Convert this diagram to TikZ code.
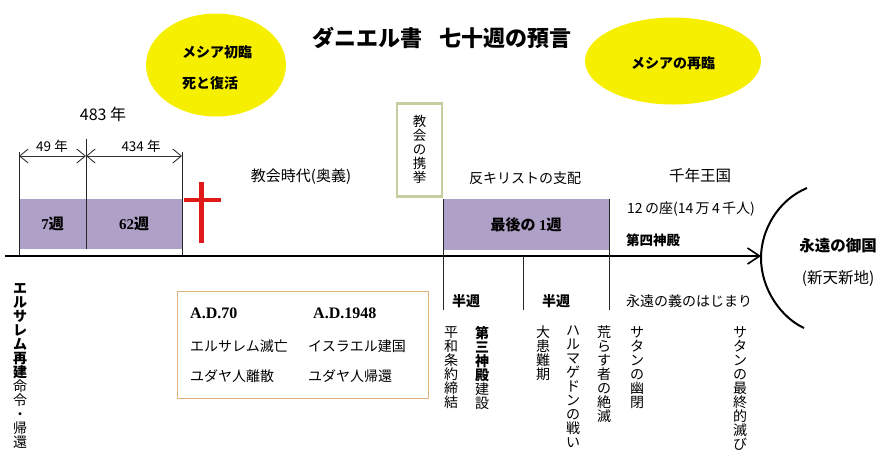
\documentclass[tikz,border=0pt]{standalone}
\usepackage{fontspec}
\setmainfont{Noto Sans CJK JP}
\newfontfamily\tms{Liberation Serif}
\usetikzlibrary{arrows.meta,shapes.geometric}
\definecolor{lav}{RGB}{174,160,198}
\definecolor{yel}{RGB}{246,240,0}
\definecolor{grn}{RGB}{196,206,160}
\definecolor{org}{RGB}{228,178,126}
\definecolor{crs}{RGB}{224,26,26}
\newcommand\tb[1]{{\bfseries #1}}
\begin{document}
\begin{tikzpicture}[x=1pt,y=-1pt,
  txt/.style={inner sep=0pt, font=\fontsize{14}{14}\selectfont},
  btxt/.style={inner sep=0pt, font=\fontsize{14}{14}\selectfont\bfseries},
  tate/.style={inner sep=0pt, anchor=north, align=center, font=\fontsize{14}{14}\selectfont},
  wkbox/.style={fill=lav, draw=none, inner sep=0pt, anchor=north west},
  oval/.style={ellipse, fill=yel, draw=none, inner sep=0pt},
  thin/.style={line width=0.9pt, draw=black!85},
  dim/.style={line width=0.9pt, draw=black!80, {Straight Barb[length=8.5pt,width=14pt,line width=0.9pt]}-{Straight Barb[length=8.5pt,width=14pt,line width=0.9pt]}},
  axis/.style={line width=2pt, -{Straight Barb[length=12pt,width=16pt,line width=1.6pt]}}
]
\useasboundingbox (0,0) rectangle (890,467);
\fill[white] (0,0) rectangle (890,467);

% title
\node[inner sep=0pt, font=\fontsize{22}{22}\selectfont\bfseries] (title) at (442,38) {ダニエル書\hspace{0.8em}七十週の預言};

% ellipses
\node[oval, minimum width=140, minimum height=103] (e1) at (216,65) {};
\node[btxt, anchor=west] (e1a) at (182,52) {メシア初臨};
\node[btxt, anchor=west] (e1b) at (182,83) {死と復活};
\node[oval, minimum width=176, minimum height=87] (e2) at (673,61) {};
\node[btxt] (e2a) at (673,63) {メシアの再臨};

% years
\node[txt, font=\fontsize{16}{16}\selectfont] (y483) at (103,114) {483 年};
\node[txt, font=\fontsize{13.5}{14}\selectfont] (y49) at (52,146) {49 年};
\node[txt, font=\fontsize{13.5}{14}\selectfont] (y434) at (141,146) {434 年};

% purple week boxes
\node[wkbox, minimum width=67, minimum height=50] (w7) at (19,199) {};
\node[wkbox, minimum width=96, minimum height=50] (w62) at (86,199) {};
\node[wkbox, minimum width=166, minimum height=51] (w1) at (443,199) {};
\node[inner sep=0pt, font=\fontsize{15}{15}\selectfont\bfseries] at (w7.center) {{\tms 7}週};
\node[inner sep=0pt, font=\fontsize{15}{15}\selectfont\bfseries] at (w62.center) {{\tms 62}週};
\node[inner sep=0pt, font=\fontsize{15}{15}\selectfont\bfseries] at ([yshift=-0.5]w1.center) {最後の {\tms 1}週};

% coordinates
\coordinate (a0) at (19,152); \coordinate (a0b) at (19,256);
\coordinate (a1) at (86,139); \coordinate (a1b) at (86,249);
\coordinate (a2) at (182,152); \coordinate (a2b) at (182,256);
\coordinate (d0) at (19,156); \coordinate (d1) at (86,156); \coordinate (d2) at (182,156);
\draw[thin] (a0) -- (a0b);
\draw[thin] (a1) -- (a1b);
\draw[thin] (a2) -- (a2b);
\draw[dim] (d0) -- (d1);
\draw[dim] (d1) -- (d2);

% cross
\coordinate (c1) at (201.5,182); \coordinate (c2) at (201.5,243);
\coordinate (c3) at (184,200); \coordinate (c4) at (221,200);
\draw[crs, line width=4.5pt] (c1) -- (c2);
\draw[crs, line width=4.5pt] (c3) -- (c4);

% headings
\node[txt, font=\fontsize{15}{15}\selectfont] (church) at (301,177) {教会時代(奥義)};
\node[txt] (anti) at (525,178) {反キリストの支配};
\node[txt, font=\fontsize{15.5}{15.5}\selectfont] (mill) at (700,176) {千年王国};
\node[txt, anchor=west] (seats) at (627,209) {12\,の座(14\,万\,4\,千人)};
\node[btxt, anchor=west, font=\fontsize{13.5}{14}\selectfont\bfseries] (temple4) at (626,240) {第四神殿};

% rapture box
\node[draw=grn, line width=2.6pt, minimum width=45, minimum height=93, inner sep=0pt] (rap) at (419.5,150) {};
\node[tate, font=\fontsize{13.5}{14}\selectfont] at (419.5,115) {教\\会\\の\\携\\挙};

% axis and dividers
\coordinate (ax0) at (5,256); \coordinate (ax1) at (761,256);
\draw[axis] (ax0) -- (ax1);
\coordinate (b0) at (443,199); \coordinate (b0b) at (443,310);
\coordinate (b1) at (523,256); \coordinate (b1b) at (523,310);
\coordinate (b2) at (609,199); \coordinate (b2b) at (609,310);
\draw[thin] (b0) -- (b0b);
\draw[thin] (b1) -- (b1b);
\draw[thin] (b2) -- (b2b);

% eternal kingdom arc
\coordinate (k0) at (807,188); \coordinate (k1) at (761,258); \coordinate (k2) at (804,328);
\draw[line width=2pt] (k0) .. controls (778,200) and (761,230) .. (k1) .. controls (761,290) and (782,318) .. (k2);
\node[btxt, font=\fontsize{15.5}{15.5}\selectfont\bfseries] (eter) at (838,246) {永遠の御国};
\node[txt, font=\fontsize{15.5}{15.5}\selectfont] (newh) at (838,278) {(新天新地)};

% below axis labels
\node[btxt] (h1) at (466,301) {半週};
\node[btxt] (h2) at (556,301) {半週};
\node[txt, anchor=west] (right) at (626,301) {永遠の義のはじまり};

% vertical texts
\node[tate] (jer) at (20,283) {\tb{エ}\\\tb{ル}\\\tb{サ}\\\tb{レ}\\\tb{ム}\\\tb{再}\\\tb{建}\\命\\令\\・\\帰\\還};
\node[tate] (v1) at (451,326) {平\\和\\条\\約\\締\\結};
\node[tate] (v2) at (482,326) {\tb{第}\\\tb{三}\\\tb{神}\\\tb{殿}\\建\\設};
\node[tate] (v3) at (543,326) {大\\患\\難\\期};
\node[tate] (v4) at (573,326) {ハ\\ル\\マ\\ゲ\\ド\\ン\\の\\戦\\い};
\node[tate] (v5) at (604,326) {荒\\ら\\す\\者\\の\\絶\\滅};
\node[tate] (v6) at (637,326) {サ\\タ\\ン\\の\\幽\\閉};
\node[tate] (v7) at (740,326) {サ\\タ\\ン\\の\\最\\終\\的\\滅\\び};

% A.D. box
\node[draw=org, line width=1.2pt, minimum width=251, minimum height=107, inner sep=0pt, anchor=north west] (adbox) at (177,291) {};
\node[inner sep=0pt, anchor=west, font=\tms\fontsize{16}{16}\selectfont\bfseries] (ad70) at (190,313) {A.D.70};
\node[inner sep=0pt, anchor=west, font=\tms\fontsize{16}{16}\selectfont\bfseries] (ad48) at (313,313) {A.D.1948};
\node[txt, anchor=west] (t1) at (190,346) {エルサレム滅亡};
\node[txt, anchor=west] (t2) at (308,346) {イスラエル建国};
\node[txt, anchor=west] (t3) at (190,376) {ユダヤ人離散};
\node[txt, anchor=west] (t4) at (308,376) {ユダヤ人帰還};
\end{tikzpicture}
\end{document}
